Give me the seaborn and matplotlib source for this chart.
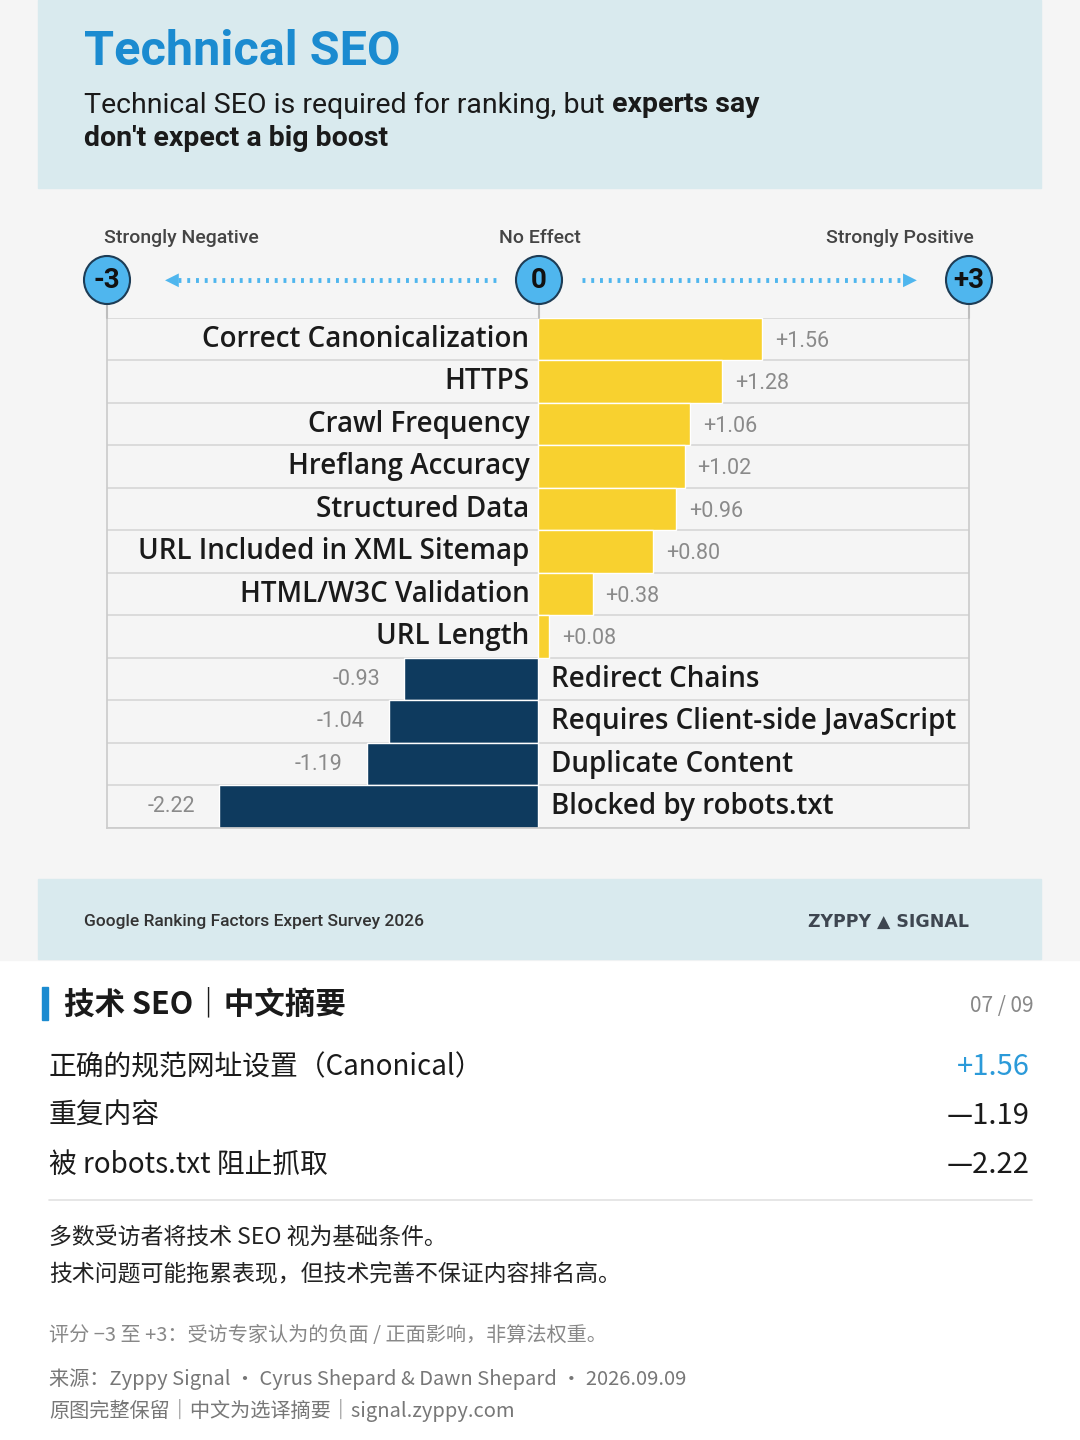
import matplotlib
matplotlib.use('Agg')
import matplotlib.pyplot as plt
import matplotlib.patches as mpatches
import seaborn as sns
import pandas as pd

sns.set_theme(style="white")
plt.rcParams['font.family'] = ['Roboto', 'Noto Sans CJK SC', 'DejaVu Sans']

# data
factors = ['Correct Canonicalization', 'HTTPS', 'Crawl Frequency', 'Hreflang Accuracy',
           'Structured Data', 'URL Included in XML Sitemap', 'HTML/W3C Validation',
           'URL Length', 'Redirect Chains', 'Requires Client-side JavaScript',
           'Duplicate Content', 'Blocked by robots.txt']
scores = [1.56, 1.28, 1.06, 1.02, 0.96, 0.80, 0.38, 0.08, -0.93, -1.04, -1.19, -2.22]
scale_ticks = ['-3', '0', '+3']
scale_labels = ['Strongly Negative', 'No Effect', 'Strongly Positive']
cn_rows = ['正确的规范网址设置（Canonical）', '重复内容', '被 robots.txt 阻止抓取']
cn_vals = ['+1.56', '—1.19', '—2.22']

W, H = 1080, 1440
YELLOW, NAVY, BLUE = '#f8d12f', '#0e3a5e', '#4fb6ee'
LABEL_FONT = ['Open Sans', 'DejaVu Sans']

fig = plt.figure(figsize=(W / 100, H / 100), dpi=100)
fig.patch.set_facecolor('white')


def fx(x):
    return x / W


def fy(y):
    return 1 - y / H


def rect(x0, y0, x1, y1, color, z=-5):
    fig.patches.append(mpatches.Rectangle((fx(x0), fy(y1)), fx(x1 - x0), (y1 - y0) / H,
                                          transform=fig.transFigure, color=color, zorder=z))


# backgrounds
rect(0, 0, W, 960, '#f5f5f5')
rect(38, 0, 1041, 188, '#d9eaee')
rect(38, 879, 1041, 959, '#d9eaee')

fig.text(fx(84), fy(52), 'Technical SEO', fontsize=35, fontweight='bold', color='#1b8bd0', va='center')
fig.text(fx(84), fy(105), 'Technical SEO is required for ranking, but',
         fontsize=20.5, color='#1a1a1a', va='center')
fig.text(fx(612), fy(105), 'experts say', fontsize=20.5, fontweight='bold', color='#1a1a1a', va='center')
fig.text(fx(84), fy(138), "don't expect a big boost", fontsize=20.5, fontweight='bold', color='#1a1a1a', va='center')

# main chart axes
ax = fig.add_axes([fx(107), fy(828), fx(969 - 107), (828 - 318) / H])
df = pd.DataFrame({'factor': factors, 'score': scores})
df['sign'] = ['pos' if s > 0 else 'neg' for s in scores]
sns.barplot(data=df, x='score', y='factor', hue='sign', palette={'pos': YELLOW, 'neg': NAVY},
            orient='h', width=1.0, dodge=False, legend=False, ax=ax, saturation=1)
ax.set_xlim(-3, 3)
ax.set_ylim(len(factors) - 0.5, -0.5)
ax.set_facecolor('#f5f5f5')
for i in range(len(factors) + 1):
    ax.axhline(i - 0.5, color='#d6d6d6', lw=1.2, zorder=0)
for s in ax.spines.values():
    s.set_color('#cccccc')
ax.spines['top'].set_visible(False)
ax.set_xticks([])
ax.set_yticks([])
ax.set_xlabel('')
ax.set_ylabel('')

for i, (f, s) in enumerate(zip(factors, scores)):
    if s > 0:
        ax.text(-0.06, i, f, ha='right', va='center', fontsize=20, color='#1a1a1a', fontweight='semibold',
                family=LABEL_FONT)
        ax.text(s + 0.09, i + 0.05, '+%.2f' % s, ha='left', va='center', fontsize=15.5, color='#8a8a8a')
    else:
        ax.text(0.09, i, f, ha='left', va='center', fontsize=20, color='#1a1a1a', fontweight='semibold',
                clip_on=False, family=LABEL_FONT)
        ax.text(s - 0.17, i, '%.2f' % s, ha='right', va='center', fontsize=15.5, color='#8a8a8a')

# scale header
for x, t, l in zip([107, 539, 969], scale_ticks, scale_labels):
    fig.lines.append(plt.Line2D([fx(x), fx(x)], [fy(300), fy(318)], color='#bdbdbd', lw=1.5,
                                transform=fig.transFigure))
    fig.patches.append(mpatches.Ellipse((fx(x), fy(280)), fx(46), 48 / H, transform=fig.transFigure,
                                        facecolor=BLUE, edgecolor='#1d3c55', lw=1.5, zorder=3))
    fig.text(fx(x), fy(280), t, ha='center', va='center', fontsize=20, fontweight='bold',
             color='#111111', zorder=4)
fig.text(fx(104), fy(238), scale_labels[0], ha='left', va='center', fontsize=14, color='#444444',
         fontweight='medium')
fig.text(fx(540), fy(238), scale_labels[1], ha='center', va='center', fontsize=14, color='#444444',
         fontweight='medium')
fig.text(fx(974), fy(238), scale_labels[2], ha='right', va='center', fontsize=14, color='#444444',
         fontweight='medium')
for x0, x1 in [(178, 498), (582, 905)]:
    fig.lines.append(plt.Line2D([fx(x0), fx(x1)], [fy(280), fy(280)], color=BLUE, lw=3.5,
                                linestyle=(0, (0.6, 1.2)), transform=fig.transFigure))
fig.text(fx(172), fy(280), '◀', ha='center', va='center', fontsize=13, color=BLUE, family='DejaVu Sans')
fig.text(fx(910), fy(280), '▶', ha='center', va='center', fontsize=13, color=BLUE, family='DejaVu Sans')

# footer
fig.text(fx(84), fy(922), 'Google Ranking Factors Expert Survey 2026', fontsize=12.5, fontweight='medium',
         color='#333333', va='center')
fig.text(fx(888), fy(922), 'ZYPPY ▲ SIGNAL', fontsize=12.5, fontweight='bold', color='#3e4650',
         ha='center', va='center', family=['DejaVu Sans'])

# Chinese summary
cn = ['Noto Sans CJK SC', 'DejaVu Sans']
rect(42, 987, 48, 1020, '#1b8bd0')
fig.text(fx(64), fy(1004), '技术 SEO｜中文摘要', fontsize=22, fontweight='bold', color='#1a1a1a',
         va='center', family=cn)
fig.text(fx(1034), fy(1006), '07 / 09', fontsize=15, color='#888888', ha='right', va='center', family=cn)
for k, (r, v) in enumerate(zip(cn_rows, cn_vals)):
    y = 1067 + k * 49
    fig.text(fx(49), fy(y), r, fontsize=20, color='#1a1a1a', va='center', family=cn, fontweight='medium')
    fig.text(fx(1030), fy(y), v, fontsize=21, color='#2b9ad9' if v.startswith('+') else '#1a1a1a',
             ha='right', va='center', family=cn, fontweight='medium')
fig.lines.append(plt.Line2D([fx(49), fx(1032)], [fy(1200), fy(1200)], color='#e2e2e2', lw=1.2,
                            transform=fig.transFigure))
fig.text(fx(49), fy(1237), '多数受访者将技术 SEO 视为基础条件。', fontsize=16.5, color='#222222', va='center', family=cn)
fig.text(fx(49), fy(1275), '技术问题可能拖累表现，但技术完善不保证内容排名高。', fontsize=16.5, color='#222222',
         va='center', family=cn)
fig.text(fx(49), fy(1335), '评分 −3 至 +3：受访专家认为的负面 / 正面影响，非算法权重。', fontsize=14.5,
         color='#888888', va='center', family=cn)
fig.text(fx(49), fy(1379), '来源：Zyppy Signal · Cyrus Shepard & Dawn Shepard · 2026.09.09', fontsize=14.5,
         color='#777777', va='center', family=cn)
fig.text(fx(49), fy(1411), '原图完整保留｜中文为选译摘要｜signal.zyppy.com', fontsize=14.5,
         color='#777777', va='center', family=cn)

fig.savefig('out.png', dpi=100, facecolor=fig.get_facecolor())
